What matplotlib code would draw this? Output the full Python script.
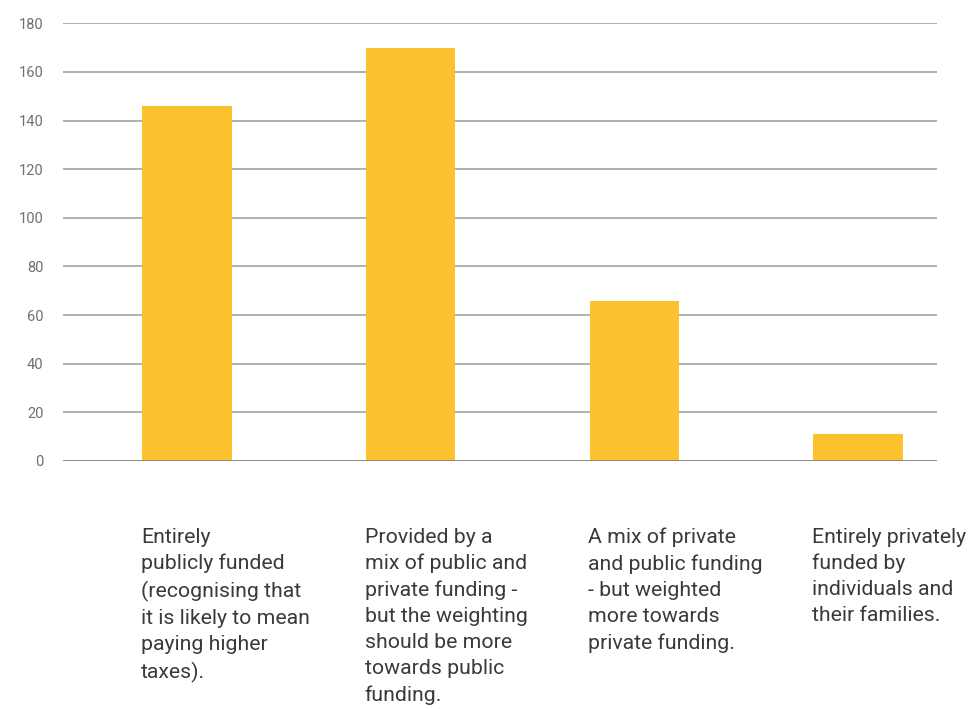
import matplotlib.pyplot as plt
from matplotlib.transforms import blended_transform_factory

plt.rcParams['font.family'] = ['Roboto', 'DejaVu Sans']

categories = [
    "Entirely\npublicly funded\n(recognising that\nit is likely to mean\npaying higher\ntaxes).",
    "Provided by a\nmix of public and\nprivate funding -\nbut the weighting\nshould be more\ntowards public\nfunding.",
    "A mix of private\nand public funding\n- but weighted\nmore towards\nprivate funding.",
    "Entirely privately\nfunded by\nindividuals and\ntheir families.",
]
values = [146, 170, 66, 11]
yticks = [0, 20, 40, 60, 80, 100, 120, 140, 160, 180]

fig = plt.figure(figsize=(9.76, 7.09), dpi=100)
ax = fig.add_axes([63/976, 1-461/709, (937-63)/976, (461-23.3)/709])

x = list(range(len(values)))
bw = 0.40
ax.bar(x, values, width=bw, color='#FCC22D', zorder=3)

ax.set_xlim(-0.554, 3.353)
ax.set_ylim(0, 180)
ax.set_yticks(yticks)
ax.set_yticklabels([str(t) for t in yticks], color='#707070', fontsize=10.5)
ax.tick_params(axis='y', length=0, pad=14)
ax.set_xticks([])
ax.grid(axis='y', color='#9a9a9a', linewidth=1.1, zorder=0)
for s in ax.spines.values():
    s.set_visible(False)
ax.axhline(0, color='#888888', linewidth=1.3, zorder=4)

trans = blended_transform_factory(ax.transData, ax.transAxes)
for xi, lab in zip(x, categories):
    ax.text(xi - bw/2 - 0.006, -0.152, lab, transform=trans, ha='left', va='top',
            fontsize=15.3, color='#3a3a3a', linespacing=1.47)

fig.savefig('out.png', dpi=100)
